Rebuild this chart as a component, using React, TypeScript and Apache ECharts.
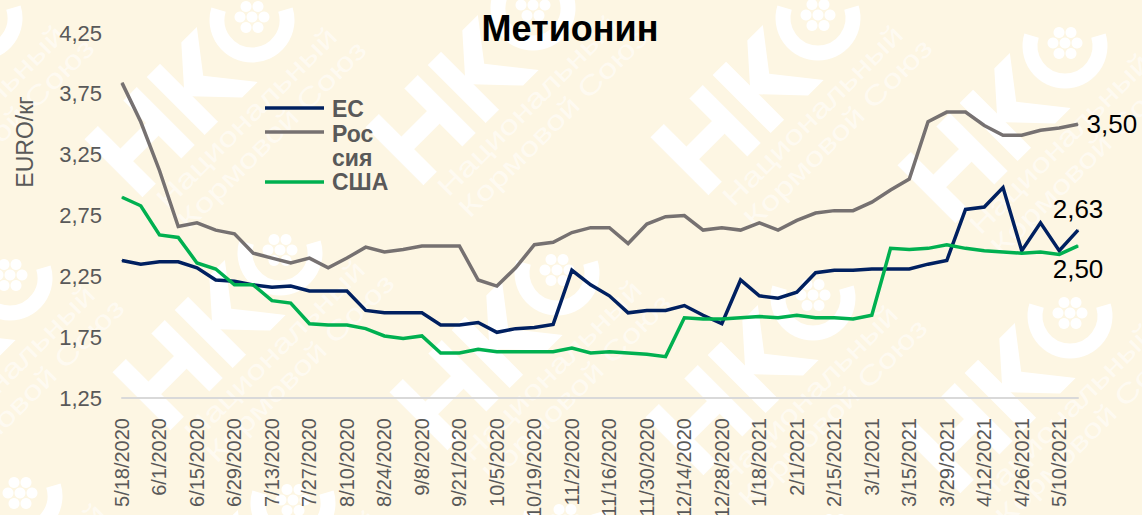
import React, { useEffect, useRef } from "react";
import * as echarts from "echarts";

const categories = [
  "5/18/2020","5/25/2020","6/1/2020","6/8/2020","6/15/2020","6/22/2020","6/29/2020","7/6/2020","7/13/2020","7/20/2020",
  "7/27/2020","8/3/2020","8/10/2020","8/17/2020","8/24/2020","8/31/2020","9/8/2020","9/14/2020","9/21/2020","9/28/2020",
  "10/5/2020","10/12/2020","10/19/2020","10/26/2020","11/2/2020","11/9/2020","11/16/2020","11/23/2020","11/30/2020","12/7/2020",
  "12/14/2020","12/21/2020","12/28/2020","1/11/2021","1/18/2021","1/25/2021","2/1/2021","2/8/2021","2/15/2021","2/22/2021",
  "3/1/2021","3/8/2021","3/15/2021","3/22/2021","3/29/2021","4/5/2021","4/12/2021","4/19/2021","4/26/2021","5/3/2021",
  "5/10/2021","5/17/2021",
];
const euValues = [
  2.38,2.35,2.37,2.37,2.32,2.22,2.21,2.18,2.16,2.17,
  2.13,2.13,2.13,1.97,1.95,1.95,1.95,1.85,1.85,1.87,
  1.79,1.82,1.83,1.855,2.30,2.18,2.09,1.95,1.97,1.97,
  2.01,1.93,1.86,2.22,2.09,2.07,2.12,2.28,2.30,2.30,
  2.31,2.31,2.31,2.35,2.38,2.80,2.82,2.98,2.46,2.69,
  2.46,2.63,
];
const russiaValues = [
  3.84,3.52,3.12,2.66,2.69,2.63,2.60,2.44,2.40,2.36,
  2.40,2.32,2.40,2.49,2.45,2.47,2.50,2.50,2.50,2.22,
  2.17,2.32,2.51,2.53,2.61,2.65,2.65,2.52,2.68,2.74,
  2.75,2.63,2.65,2.63,2.69,2.63,2.71,2.77,2.79,2.79,
  2.86,2.96,3.05,3.52,3.60,3.60,3.49,3.41,3.41,3.45,
  3.47,3.50,
];
const usaValues = [
  2.90,2.83,2.59,2.57,2.36,2.31,2.18,2.18,2.05,2.03,
  1.86,1.85,1.85,1.82,1.76,1.74,1.76,1.62,1.62,1.65,
  1.63,1.63,1.63,1.63,1.66,1.62,1.63,1.62,1.61,1.59,
  1.91,1.90,1.90,1.91,1.92,1.91,1.93,1.91,1.91,1.90,
  1.93,2.48,2.47,2.48,2.51,2.48,2.46,2.45,2.44,2.45,
  2.43,2.50,
];
const yTickLabels = ["1,25","1,75","2,25","2,75","3,25","3,75","4,25"];
const logoCentres = [
  [-20,15],[252,17],[533,5],[818,15],[1065,43],
  [10,275],[280,250],[557,270],[813,295],[1070,313],
  [20,493],[293,500],[565,520],[835,530],[1100,540],
];

const FONT = "'Liberation Sans', Arial, sans-serif";
const fmt = (v: number) => v.toFixed(2).replace(".", ",");

function logo(cx: number, cy: number) {
  const white = { fill: "#ffffff" };
  const dots = [[0,0],[12,0],[-12,0],[6,10.5],[-6,10.5],[6,-10.5],[-6,-10.5]];
  return {
    type: "group",
    silent: true,
    x: cx,
    y: cy,
    children: [
      { type: "arc", shape: { cx: 0, cy: 3, r: 35, startAngle: -0.3, endAngle: Math.PI + 0.3, clockwise: true },
        style: { stroke: "#ffffff", fill: "none", lineWidth: 15 } },
      ...dots.map(([x, y]) => ({ type: "circle", shape: { cx: x, cy: y, r: 5.5 }, style: white })),
      {
        type: "group",
        rotation: Math.PI / 4,
        children: [
          { type: "rect", shape: { x: -205, y: -32, width: 19, height: 82 }, style: white },
          { type: "rect", shape: { x: -150, y: -32, width: 19, height: 82 }, style: white },
          { type: "rect", shape: { x: -190, y: 0, width: 45, height: 18 }, style: white },
          { type: "rect", shape: { x: -117, y: -32, width: 19, height: 82 }, style: white },
          { type: "polygon", shape: { points: [[-100,4],[-68,-32],[-46,-32],[-76,7],[-42,50],[-64,50],[-100,12]] }, style: white },
          { type: "text", x: -196, y: 54, scaleX: 1.28, style: { text: "Национальный", font: `27px ${FONT}`, fill: "rgba(255,255,255,0.55)" } },
          { type: "text", x: -196, y: 84, scaleX: 1.28, style: { text: "Кормовой Союз", font: `27px ${FONT}`, fill: "rgba(255,255,255,0.55)" } },
        ],
      },
    ],
  };
}

function legendItem(color: string, y: number) {
  return { type: "line", silent: true, shape: { x1: 265, y1: y, x2: 324, y2: y }, style: { stroke: color, lineWidth: 3.5 } };
}
function legendText(text: string, y: number) {
  return { type: "text", silent: true, x: 332, y, style: { text, font: `bold 23px ${FONT}`, fill: "#595959", textVerticalAlign: "middle" } };
}

function lineSeries(name: string, color: string, values: number[], position: string, distance: number) {
  return {
    name,
    type: "line",
    symbol: "circle",
    symbolSize: 1,
    showSymbol: true,
    showAllSymbol: true,
    lineStyle: { color, width: 3.5, join: "miter" },
    itemStyle: { color },
    data: values.map((v, i) =>
      i === values.length - 1
        ? { value: v, label: { show: true, position, distance, formatter: () => fmt(v), color: "#000000", fontFamily: FONT, fontSize: 26 } }
        : v
    ),
  };
}

export default function App() {
  const ref = useRef<HTMLDivElement>(null);
  useEffect(() => {
    document.body.style.margin = "0";
    const chart = echarts.init(ref.current!, undefined, { renderer: "svg" });
    chart.setOption({
      animation: false,
      backgroundColor: "#FDF6E3",
      title: {
        text: "Метионин",
        left: 565,
        top: 5,
        textAlign: "center",
        textStyle: { fontFamily: FONT, fontSize: 36, fontWeight: "bold", color: "#000000" },
      },
      grid: { left: 122, right: 64, top: 33, bottom: 117, outerBoundsMode: "none" },
      xAxis: {
        type: "category",
        boundaryGap: false,
        data: categories,
        axisTick: { show: false },
        axisLine: { lineStyle: { color: "#D9D9D9", width: 2 } },
        axisLabel: { interval: 1, rotate: 90, margin: 20, fontFamily: FONT, fontSize: 20, color: "#595959" },
      },
      yAxis: {
        type: "value",
        min: 1.25,
        max: 4.25,
        interval: 0.25,
        splitLine: { show: false },
        axisTick: { show: false },
        axisLine: { show: false },
        axisLabel: {
          margin: 20,
          fontFamily: FONT,
          fontSize: 22,
          color: "#595959",
          formatter: (v: number) => (yTickLabels.includes(fmt(v)) ? fmt(v) : ""),
        },
      },
      series: [
        lineSeries("ЕС", "#002060", euValues, "top", 8),
        lineSeries("Россия", "#767171", russiaValues, "right", 8),
        lineSeries("США", "#00B050", usaValues, "bottom", 10),
      ],
      graphic: [
        { type: "group", z: -10, silent: true, children: logoCentres.map(([x, y]) => logo(x, y)) },
        { type: "text", silent: true, x: 25, y: 142, rotation: Math.PI / 2, style: { text: "EURO/кг", font: `23px ${FONT}`, fill: "#595959", textAlign: "center", textVerticalAlign: "middle" } },
        legendItem("#002060", 108),
        legendItem("#767171", 132),
        legendItem("#00B050", 182),
        legendText("ЕС", 109),
        legendText("Рос", 134),
        legendText("сия", 158),
        legendText("США", 182),
      ],
    });
    return () => chart.dispose();
  }, []);
  return <div ref={ref} style={{ width: 1142, height: 515 }} />;
}
